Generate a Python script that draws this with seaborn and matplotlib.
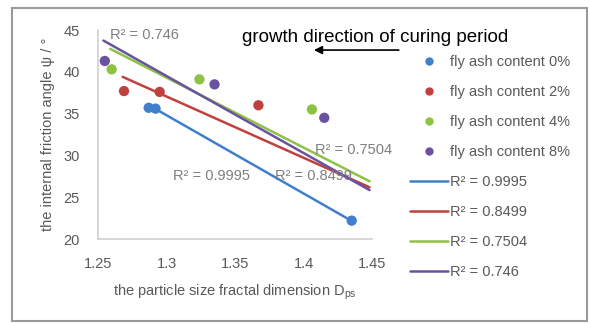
import numpy as np
import pandas as pd
import matplotlib
matplotlib.use("Agg")
import matplotlib.pyplot as plt
import seaborn as sns
from matplotlib.patches import Rectangle, FancyArrowPatch

# data
groups = ["fly ash content 0%", "fly ash content 2%", "fly ash content 4%", "fly ash content 8%"]
blue_x = [1.287, 1.292, 1.435]
blue_y = [35.7, 35.6, 22.2]
red_x = [1.269, 1.295, 1.367]
red_y = [37.7, 37.6, 36.0]
green_x = [1.260, 1.324, 1.406]
green_y = [40.3, 39.1, 35.5]
purple_x = [1.255, 1.335, 1.415]
purple_y = [41.3, 38.5, 34.5]

# trend lines (slope, intercept, x range) and their R² labels
trend_slope = [-93.7, -73.4, -83.8, -92.2]
trend_icpt = [156.62, 132.47, 148.25, 159.36]
trend_xmin = [1.292, 1.268, 1.259, 1.254]
trend_xmax = [1.435, 1.448, 1.448, 1.448]
r2_labels = ["R² = 0.9995", "R² = 0.8499", "R² = 0.7504", "R² = 0.746"]

colors = ["#3F7FCC", "#C0403D", "#8DC245", "#6A52A0"]

sns.set_style("white")
plt.rcParams["font.family"] = ["Liberation Sans", "DejaVu Sans"]

df = pd.DataFrame({
    "D": blue_x + red_x + green_x + purple_x,
    "psi": blue_y + red_y + green_y + purple_y,
    "group": [groups[0]] * 3 + [groups[1]] * 3 + [groups[2]] * 3 + [groups[3]] * 3,
})

fig = plt.figure(figsize=(5.9, 3.23), dpi=100)
ax = fig.add_axes([0.166, 0.26, 0.465, 0.647])

# trend lines
for i in range(4):
    xs = np.array([trend_xmin[i], trend_xmax[i]])
    ys = trend_slope[i] * xs + trend_icpt[i]
    sns.lineplot(x=xs, y=ys, ax=ax, color=colors[i], lw=1.8, label=r2_labels[i])

sns.scatterplot(data=df, x="D", y="psi", hue="group", palette=colors, s=55,
                edgecolor="none", ax=ax, zorder=3)

ax.set_xlim(1.25, 1.45)
ax.set_ylim(20, 45)
ax.set_xticks([1.25, 1.3, 1.35, 1.4, 1.45])
ax.set_xticklabels(["1.25", "1.3", "1.35", "1.4", "1.45"])
ax.set_yticks([20, 25, 30, 35, 40, 45])
ax.tick_params(axis="x", labelsize=10.5, colors="#595959", length=0, pad=13)
ax.tick_params(axis="y", labelsize=10.5, colors="#595959", length=0, pad=13)
for s in ["top", "right"]:
    ax.spines[s].set_visible(False)
for s in ["left", "bottom"]:
    ax.spines[s].set_color("#d0d0d0")
    ax.spines[s].set_linewidth(1.2)

ax.set_xlabel("the particle size fractal dimension D$_{\\mathregular{ps}}$", fontsize=10.5,
              color="#595959", labelpad=8)
ax.set_ylabel("the internal friction angle ψ / °", fontsize=10.5, color="#595959", labelpad=6)

# R² annotations
ax.text(1.2585, 44.4, r2_labels[3], fontsize=10.5, color="#7f7f7f", va="center")
ax.text(1.3050, 27.5, r2_labels[0], fontsize=10.5, color="#7f7f7f", va="center")
ax.text(1.3790, 27.5, r2_labels[1], fontsize=10.5, color="#7f7f7f", va="center")
ax.text(1.4085, 30.7, r2_labels[2], fontsize=10.5, color="#7f7f7f", va="center")

# title and arrow
fig.text(0.411, 0.885, "growth direction of curing period", fontsize=13.5, color="black",
         ha="left", va="center")
fig.add_artist(FancyArrowPatch((0.676, 0.845), (0.532, 0.845),
               transform=fig.transFigure, arrowstyle="-|>", mutation_scale=12,
               color="black", lw=1.2, shrinkA=0, shrinkB=0))

# legend: points first, then lines
handles, labels = ax.get_legend_handles_labels()
order = [labels.index(g) for g in groups] + [labels.index(r) for r in r2_labels]
leg = ax.legend([handles[k] for k in order], [labels[k] for k in order],
                loc="upper left", bbox_to_anchor=(1.117, 0.91), frameon=False,
                fontsize=10.5, labelspacing=1.1, handlelength=2.6, handletextpad=0.15,
                borderaxespad=0)
for t in leg.get_texts():
    t.set_color("#595959")
for h in leg.legend_handles[:4]:
    h.set_markersize(6)

# chart border
fig.add_artist(Rectangle((0.02, 0.005), 0.975, 0.97, transform=fig.transFigure,
                         fill=False, edgecolor="#9a9a9a", lw=1.5))

fig.savefig("out.png", dpi=100)
